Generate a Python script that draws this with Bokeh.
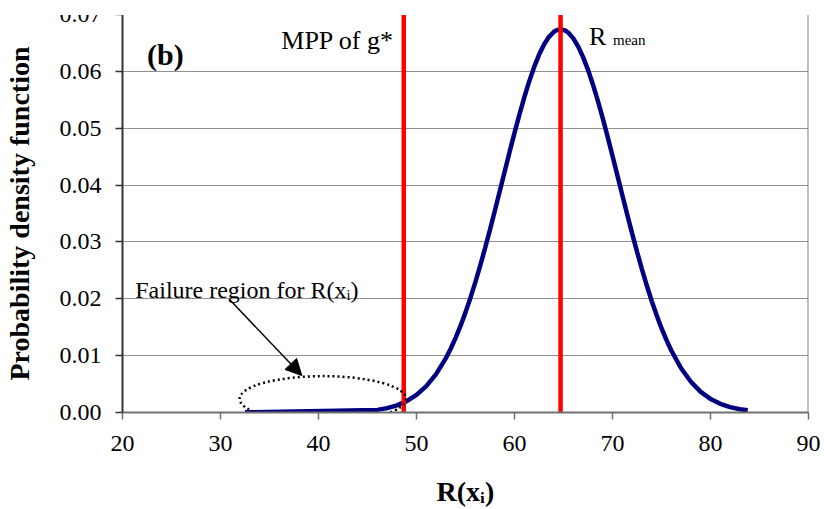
from bokeh.plotting import figure
from bokeh.models import (Range1d, FixedTicker, PrintfTickFormatter, Span, Arrow,
                          NormalHead, Label, ColumnDataSource)
from bokeh.embed import file_html
from bokeh.resources import INLINE

# ---- data ----
x_ticks = [20, 30, 40, 50, 60, 70, 80, 90]
y_ticks = [0.00, 0.01, 0.02, 0.03, 0.04, 0.05, 0.06, 0.07]
grid_ticks = [0.01, 0.02, 0.03, 0.04, 0.05, 0.06]

curve_x = [32.5, 46, 47, 48, 49, 50, 51, 52, 53, 53.5, 54, 54.5, 55, 55.5, 56, 56.5,
           57, 57.5, 58, 58.5, 59, 59.5, 60, 60.5, 61, 61.5, 62, 62.5, 63, 63.5, 64,
           64.2, 64.7, 65.2, 65.5, 66, 66.5, 67, 67.5, 68, 68.5, 69, 69.5, 70, 70.5,
           71, 71.5, 72, 72.5, 73, 73.5, 74, 74.5, 75, 75.5, 76, 77, 78, 79, 80, 81,
           82, 83, 83.8]
curve_y = [0.00003, 0.00046, 0.00077, 0.00126, 0.00200, 0.00309, 0.00463, 0.00675,
           0.00956, 0.01126, 0.01316, 0.01527, 0.01761, 0.02015, 0.02289, 0.02582,
           0.02893, 0.03217, 0.03553, 0.03895, 0.04240, 0.04583, 0.04918, 0.05240,
           0.05544, 0.05824, 0.06074, 0.06291, 0.06468, 0.06603, 0.06693, 0.06716,
           0.06740, 0.06716, 0.06679, 0.06580, 0.06435, 0.06250, 0.06027, 0.05770,
           0.05485, 0.05177, 0.04852, 0.04514, 0.04171, 0.03826, 0.03485, 0.03151,
           0.02830, 0.02522, 0.02233, 0.01962, 0.01713, 0.01483, 0.01277, 0.01090,
           0.00778, 0.00540, 0.00364, 0.00239, 0.00152, 0.00094, 0.00057, 0.00040]

marker_names = ["MPP of g*", "R mean"]
marker_x = [48.7, 64.7]

SERIF = "Liberation Serif"

p = figure(width=824, height=509, x_range=Range1d(20, 90), y_range=Range1d(0, 0.07),
           output_backend="svg", toolbar_location=None,
           min_border_left=120, min_border_right=16, min_border_top=14, min_border_bottom=95,
           styles={"clip-path": "inset(15px 0px 0px 0px)"})
p.outline_line_color = None
p.background_fill_color = "white"
p.border_fill_color = "white"

# axes
p.xaxis.ticker = FixedTicker(ticks=x_ticks)
p.yaxis.ticker = FixedTicker(ticks=y_ticks)
p.yaxis.formatter = PrintfTickFormatter(format="%.2f")
for ax in (p.xaxis[0], p.yaxis[0]):
    ax.major_label_text_font = SERIF
    ax.major_label_text_font_size = "24px"
    ax.major_label_text_color = "black"
    ax.major_tick_in = 0
    ax.major_tick_out = 7
    ax.minor_tick_line_color = None
    ax.axis_line_width = 2
    ax.major_tick_line_width = 1.5
    ax.axis_label_text_font = SERIF
    ax.axis_label_text_font_style = "bold"
    ax.axis_label_text_font_size = "28px"
    ax.axis_label_text_color = "black"
p.yaxis.axis_line_color = "#333333"
p.yaxis.major_tick_line_color = "#333333"
p.xaxis.axis_line_color = "#707070"
p.xaxis.major_tick_line_color = "#707070"
p.yaxis.major_label_standoff = 14
p.xaxis.major_label_standoff = 16

p.yaxis.axis_label = "Probability density function"
p.yaxis.axis_label_standoff = 22
p.xaxis.axis_label = "R(xᵢ)"
p.xaxis.axis_label_standoff = 22

# grid
p.xgrid.visible = False
p.ygrid.ticker = FixedTicker(ticks=grid_ticks)
p.ygrid.grid_line_color = "#202020"
p.ygrid.grid_line_dash = "1 1"
p.ygrid.grid_line_width = 1

# right border
p.add_layout(Span(location=x_ticks[-1], dimension="height", line_color="#808080", line_width=2))

# curve
p.line(curve_x, curve_y, line_color="#000080", line_width=4.5)

# vertical red markers
src = ColumnDataSource(dict(x=marker_x, y0=[y_ticks[0]] * 2, y1=[y_ticks[-1]] * 2))
p.segment(x0="x", y0="y0", x1="x", y1="y1", source=src, line_color="#FF0000", line_width=4.5)

# failure region ellipse + arrow
p.ellipse(x=[40.45], y=[0.0024], width=17.0, height=0.0080, fill_color=None,
          line_color="black", line_dash="2 3", line_width=2.5)
p.add_layout(Arrow(end=NormalHead(size=16, fill_color="black", line_color="black"),
                   x_start=30.9, y_start=0.0199, x_end=38.3, y_end=0.0065,
                   line_color="black", line_width=1.5))

def lab(x, y, text, size, bold=False, align="left"):
    p.add_layout(Label(x=x, y=y, text=text, text_font=SERIF, text_font_size=size,
                       text_font_style="bold" if bold else "normal", text_color="black",
                       text_align=align, text_baseline="alphabetic"))

lab(22.5, 0.0630, "(b)", "30px", bold=True)
lab(47.7, 0.0655, "MPP of g*", "26px", align="right")
lab(67.6, 0.0662, "R", "26px")
lab(70.05, 0.0655, "mean", "15px")
lab(21.3, 0.0216, "Failure region for R(xᵢ)", "24px")

open("out.html", "w").write(file_html(p, INLINE))
